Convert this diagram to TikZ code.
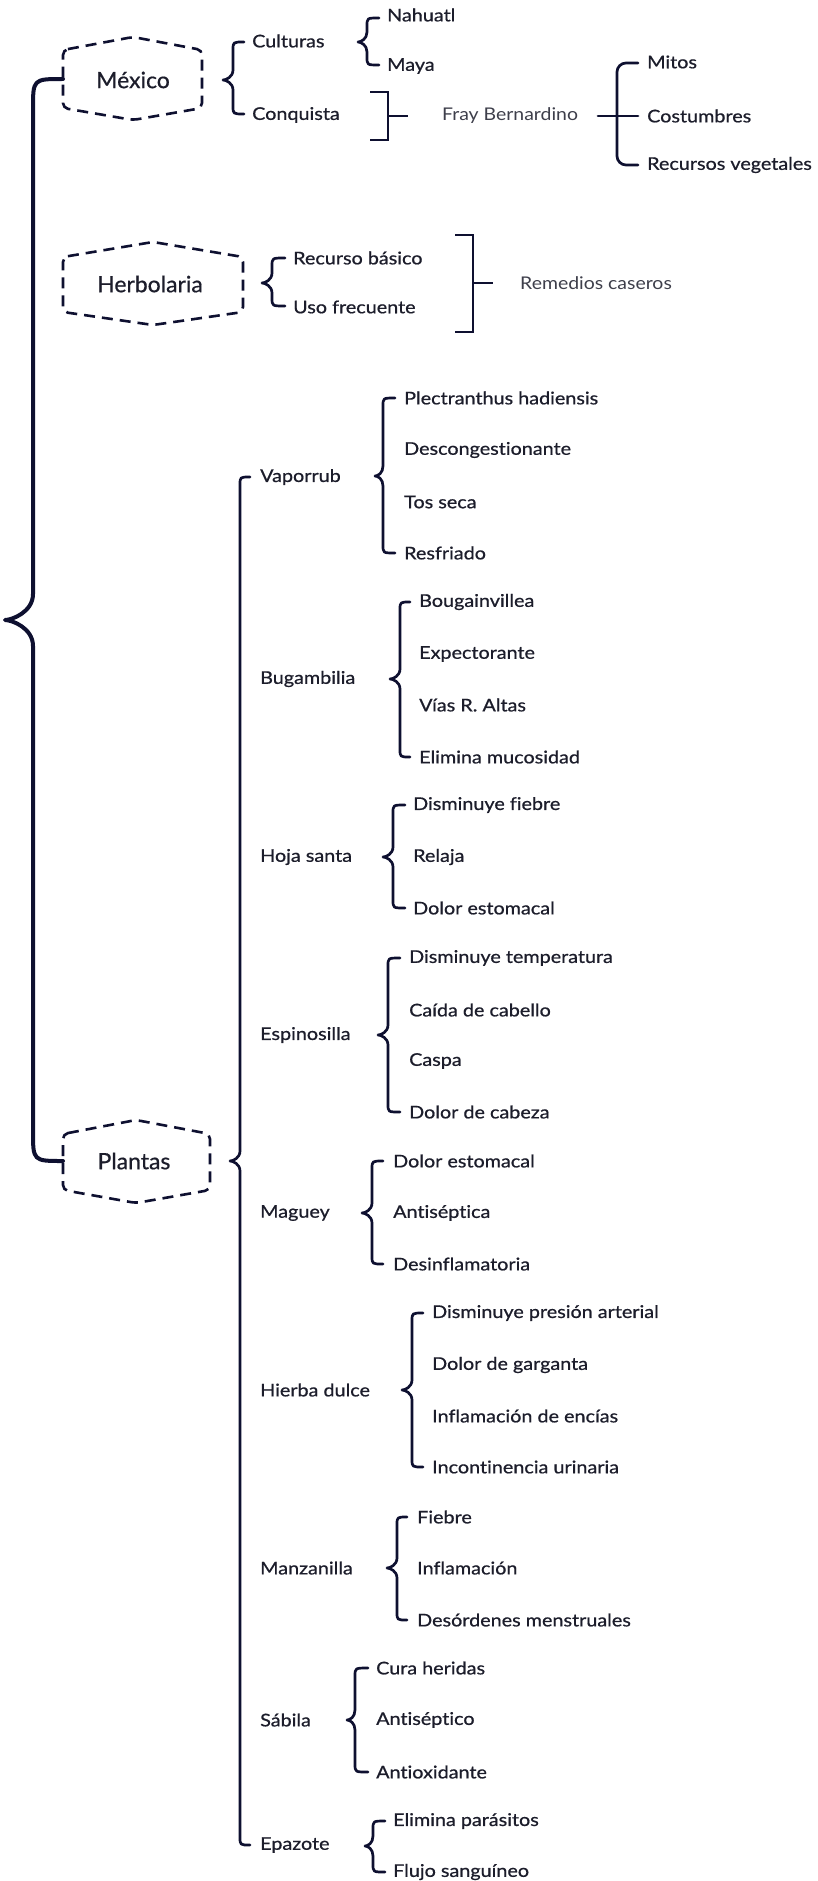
\documentclass[tikz,border=0pt]{standalone}
\usepackage{fontspec}
\setmainfont{Lato}
\newfontfamily\itemfont[FakeStretch=1.13,FakeBold=0.7,Ligatures=CommonOff]{Lato}
\newfontfamily\litefont[FakeStretch=1.11,Ligatures=CommonOff]{Lato}
\newfontfamily\bigfont[FakeStretch=1.02,FakeBold=0.6]{Lato}
\definecolor{ink}{HTML}{0E1030}
\definecolor{txt}{HTML}{1C1D2B}
\newcommand\cbrace[6]{%
\draw[brc] (#3,#4) .. controls (#2,#4) .. (#2,#4+8) -- (#2,#5-10) .. controls (#2,#5-3) and (#1+3,#5) .. (#1,#5) .. controls (#1+3,#5) and (#2,#5+3) .. (#2,#5+10) -- (#2,#6-8) .. controls (#2,#6) .. (#3,#6);}
\begin{document}
\begin{tikzpicture}[x=1pt,y=-1pt,
  brc/.style={draw=ink,line width=2.7pt,line cap=round,line join=round},
  sqb/.style={draw=ink,line width=2.8pt},
  hexd/.style={draw=ink,line width=2.6pt,dash pattern=on 11pt off 7pt,rounded corners=5pt},
  itm/.style={anchor=west,inner sep=0pt,text=txt,font=\itemfont\fontsize{17.5}{20}\selectfont},
  lite/.style={anchor=west,inner sep=0pt,text=txt!85,font=\litefont\fontsize{17.5}{20}\selectfont},
  big/.style={inner sep=0pt,text=txt,font=\bigfont\fontsize{22.5}{26}\selectfont}]
\useasboundingbox (0,0) rectangle (817,1881);
\fill[white] (0,0) rectangle (817,1881);
% main brace
\draw[brc,line width=4pt] (63,79) .. controls (33,79) .. (33,109) -- (33,594) .. controls (33,612) and (12,620) .. (5,620) .. controls (12,620) and (33,628) .. (33,646) -- (33,1131) .. controls (33,1161) .. (63,1161);
% hexagons
\draw[hexd] (63,50) -- (133,37) -- (202,50) -- (202,108) -- (133,120) -- (63,108) -- cycle;
\node[big] (mexico) at (133,80) {México};
\draw[hexd] (63,257) -- (153,242) -- (243,257) -- (243,312) -- (153,325) -- (63,312) -- cycle;
\node[big] (herbolaria) at (150,284) {Herbolaria};
\draw[hexd] (63,1134) -- (136,1120) -- (210,1134) -- (210,1190) -- (136,1203) -- (63,1190) -- cycle;
\node[big] (plantas) at (134,1161) {Plantas};
% Mexico
\cbrace{223}{233}{244}{42}{80}{114}
\node[itm] (culturas) at (252,41) {Culturas};
\node[itm] (conquista) at (252,115) {Conquista};
\cbrace{358}{367}{379}{18}{42}{65}
\node[itm] (nahuatl) at (387,15) {Nahuatl};
\node[itm] (maya) at (387,66) {Maya};
\draw[sqb] (370,92) -- (388,92) -- (388,140) -- (370,140);
\draw[sqb] (388,116) -- (408,116);
\node[lite] (fray) at (442,116) {Fray Bernardino};
\draw[brc,rounded corners=9pt] (638,63) -- (617,63) -- (617,165) -- (638,165);
\draw[brc] (598,116) -- (638,116);
\node[itm] (mitos) at (647,62) {Mitos};
\node[itm] (costumbres) at (647,116) {Costumbres};
\node[itm] (recveg) at (647,165) {Recursos vegetales};
% Herbolaria
\cbrace{262}{272}{285}{258}{283}{306}
\node[itm] (recbas) at (293,258) {Recurso básico};
\node[itm] (usofre) at (293,307) {Uso frecuente};
\draw[sqb] (455,235) -- (473,235) -- (473,332) -- (455,332);
\draw[sqb] (473,283) -- (493,283);
\node[lite] (remedios) at (520,283) {Remedios caseros};
% Plantas
\cbrace{230}{240}{250}{477}{1161}{1845}
\node[itm] (vaporrub) at (260,477) {Vaporrub};
\cbrace{375}{383}{395}{398}{476}{553}
\node[itm] (v1) at (404,398) {Plectranthus hadiensis};
\node[itm] (v2) at (404,450) {Descongestionante};
\node[itm] (v3) at (404,502) {Tos seca};
\node[itm] (v4) at (404,553) {Resfriado};
\node[itm] (bugambilia) at (260,679) {Bugambilia};
\cbrace{390}{400}{410}{602}{679}{757}
\node[itm] (b1) at (419,602) {Bougainvillea};
\node[itm] (b2) at (419,654) {Expectorante};
\node[itm] (b3) at (419,705) {Vías R. Altas};
\node[itm] (b4) at (419,757) {Elimina mucosidad};
\node[itm] (hoja) at (260,857) {Hoja santa};
\cbrace{383}{393}{405}{805}{857}{908}
\node[itm] (h1) at (413,805) {Disminuye fiebre};
\node[itm] (h2) at (413,857) {Relaja};
\node[itm] (h3) at (413,908) {Dolor estomacal};
\node[itm] (espinosilla) at (260,1035) {Espinosilla};
\cbrace{378}{388}{400}{958}{1035}{1112}
\node[itm] (e1) at (409,958) {Disminuye temperatura};
\node[itm] (e2) at (409,1010) {Caída de cabello};
\node[itm] (e3) at (409,1061) {Caspa};
\node[itm] (e4) at (409,1112) {Dolor de cabeza};
\node[itm] (maguey) at (260,1213) {Maguey};
\cbrace{362}{372}{383}{1161}{1213}{1264}
\node[itm] (m1) at (393,1161) {Dolor estomacal};
\node[itm] (m2) at (393,1213) {Antiséptica};
\node[itm] (m3) at (393,1264) {Desinflamatoria};
\node[itm] (hierba) at (260,1390) {Hierba dulce};
\cbrace{402}{412}{423}{1313}{1390}{1467}
\node[itm] (d1) at (432,1313) {Disminuye presión arterial};
\node[itm] (d2) at (432,1365) {Dolor de garganta};
\node[itm] (d3) at (432,1416) {Inflamación de encías};
\node[itm] (d4) at (432,1467) {Incontinencia urinaria};
\node[itm] (manzanilla) at (260,1568) {Manzanilla};
\cbrace{387}{397}{407}{1517}{1568}{1620}
\node[itm] (z1) at (417,1517) {Fiebre};
\node[itm] (z2) at (417,1568) {Inflamación};
\node[itm] (z3) at (417,1620) {Desórdenes menstruales};
\node[itm] (sabila) at (260,1720) {Sábila};
\cbrace{347}{355}{368}{1668}{1720}{1772}
\node[itm] (s1) at (376,1668) {Cura heridas};
\node[itm] (s2) at (376,1720) {Antiséptico};
\node[itm] (s3) at (376,1772) {Antioxidante};
\node[itm] (epazote) at (260,1845) {Epazote};
\cbrace{365}{373}{385}{1821}{1846}{1872}
\node[itm] (p1) at (393,1821) {Elimina parásitos};
\node[itm] (p2) at (393,1872) {Flujo sanguíneo};
\end{tikzpicture}
\end{document}
